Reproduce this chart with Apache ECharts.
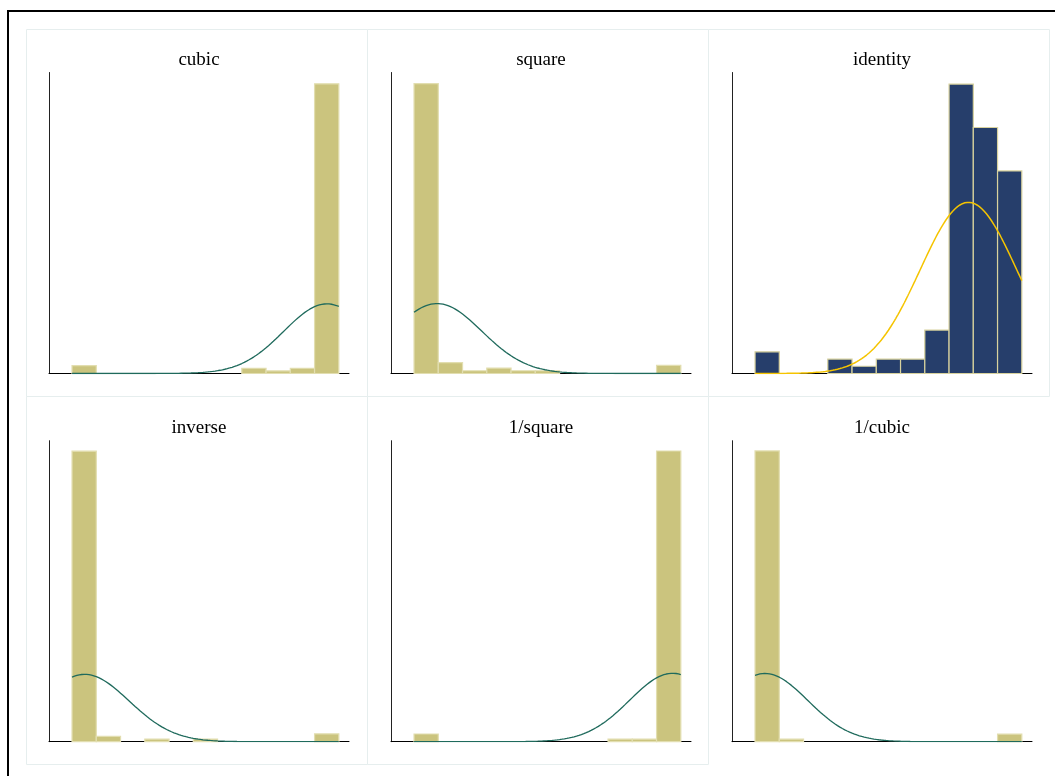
<!DOCTYPE html>
<html>
<head>
<meta charset="utf-8">
<title>Ladder of powers</title>
<script src="https://cdn.jsdelivr.net/npm/echarts@6/dist/echarts.min.js"></script>
<style>
  html, body { margin: 0; padding: 0; background: #ffffff; }
  #chart { width: 1055px; height: 776px; }
</style>
</head>
<body>
<div id="chart"></div>
<script>
// Panel titles, in drawing order (row by row)
const panelTitles = ['cubic', 'square', 'identity', 'inverse', '1/square', '1/cubic'];

// Histogram bin edges (11 equal-width bins, in bin units)
const binEdges = [0, 1, 2, 3, 4, 5, 6, 7, 8, 9, 10, 11];

// Observation counts per bin for each transformation (N = 118)
const countsCubic    = [3, 0, 0, 0, 0, 0, 0, 2, 1, 2, 110];
const countsSquare   = [106, 4, 1, 2, 1, 1, 0, 0, 0, 0, 3];
const countsIdentity = [3, 0, 0, 2, 1, 2, 2, 6, 40, 34, 28];
const countsInverse  = [111, 2, 0, 1, 0, 1, 0, 0, 0, 0, 3];
const countsInvSq    = [3, 0, 0, 0, 0, 0, 0, 0, 1, 1, 113];
const countsInvCubic = [114, 1, 0, 0, 0, 0, 0, 0, 0, 0, 3];

// Normal overlay parameters (mean and sd, in bin units)
const curveMean = [10.51, 0.95, 8.80, 0.52, 10.66, 0.41];
const curveSd   = [1.78, 1.84, 1.99, 1.83, 1.77, 1.76];

// Upper end of each count axis
const yMaxes = [114.3, 110.1, 41.6, 115.0, 117.0, 118.0];

const allCounts = [countsCubic, countsSquare, countsIdentity, countsInverse, countsInvSq, countsInvCubic];

const khaki = { fill: '#cbc47e', stroke: '#e2deb0' };
const navy  = { fill: '#263e6b', stroke: '#d8d29e' };
const teal  = '#1f6a5c';
const gold  = '#f5c400';

// plot rectangles: columns and rows
const colLeft = [49, 391, 732];
const plotW = 300;
const rowTop = [72.5, 440.7];
const plotH = 301;

const chart = echarts.init(document.getElementById('chart'), null, { renderer: 'canvas' });

const grids = [], xAxes = [], yAxes = [], series = [], titles = [];

allCounts.forEach(function (counts, i) {
  const col = i % 3, row = Math.floor(i / 3);
  const isIdentity = i === 2;
  const bar = isIdentity ? navy : khaki;
  const lineColor = isIdentity ? gold : teal;
  const N = counts.reduce(function (a, b) { return a + b; }, 0);

  grids.push({ left: colLeft[col], top: rowTop[row], width: plotW, height: plotH, containLabel: false });
  xAxes.push({
    type: 'value', gridIndex: i, min: -0.95, max: 11.42,
    axisLine: { show: true, onZero: false, lineStyle: { color: '#000', width: 1 } },
    axisTick: { show: false }, axisLabel: { show: false }, splitLine: { show: false }
  });
  yAxes.push({
    type: 'value', gridIndex: i, min: 0, max: yMaxes[i],
    axisLine: { show: true, onZero: false, lineStyle: { color: '#222', width: 1 } },
    axisTick: { show: false }, axisLabel: { show: false }, splitLine: { show: false }
  });

  // histogram bars: [left edge, right edge, count]
  const barData = [];
  counts.forEach(function (c, k) {
    if (c > 0) barData.push([binEdges[k], binEdges[k + 1], c]);
  });
  series.push({
    type: 'custom', xAxisIndex: i, yAxisIndex: i, z: 2,
    data: barData,
    renderItem: function (params, api) {
      const p0 = api.coord([api.value(0), api.value(2)]);
      const p1 = api.coord([api.value(1), 0]);
      return {
        type: 'rect',
        shape: { x: p0[0], y: p0[1], width: p1[0] - p0[0], height: p1[1] - p0[1] },
        style: { fill: bar.fill, stroke: bar.stroke, lineWidth: 1.2 }
      };
    },
    silent: true
  });

  // normal density scaled to counts (bin width 1)
  const m = curveMean[i], s = curveSd[i];
  const lineData = [];
  const lo = binEdges[0], hi = binEdges[binEdges.length - 1];
  for (let t = 0; t <= 220; t++) {
    const x = lo + (hi - lo) * t / 220;
    const z = (x - m) / s;
    lineData.push([x, N / (s * Math.sqrt(2 * Math.PI)) * Math.exp(-0.5 * z * z)]);
  }
  series.push({
    type: 'line', xAxisIndex: i, yAxisIndex: i, z: 3,
    data: lineData, showSymbol: false, symbol: 'none', smooth: false,
    lineStyle: { color: lineColor, width: isIdentity ? 1.5 : 1.3 },
    silent: true, animation: false
  });

  titles.push({
    text: panelTitles[i],
    left: colLeft[col] + plotW / 2,
    top: row === 0 ? 51 : 419,
    padding: 0,
    textAlign: 'center',
    textStyle: { fontFamily: 'Liberation Serif, Times New Roman, serif', fontSize: 19, fontWeight: 'normal', color: '#000' }
  });
});

// panel frames and the outer border
const frameStyle = { fill: 'none', stroke: '#e6eeee', lineWidth: 1 };
const frames = [
  [26.5, 29.5, 341, 367], [367.5, 29.5, 341, 367], [708.5, 29.5, 341, 367],
  [26.5, 396.5, 341, 368], [367.5, 396.5, 341, 368]
].map(function (r) {
  return { type: 'rect', silent: true, z: -1, shape: { x: r[0], y: r[1], width: r[2], height: r[3] }, style: frameStyle };
});
frames.push({
  type: 'rect', silent: true, z: 10,
  shape: { x: 8, y: 11, width: 1100, height: 820 },
  style: { fill: 'none', stroke: '#000', lineWidth: 2 }
});

chart.setOption({
  animation: false,
  backgroundColor: '#ffffff',
  title: titles,
  grid: grids,
  xAxis: xAxes,
  yAxis: yAxes,
  series: series,
  graphic: frames
});
</script>
</body>
</html>
